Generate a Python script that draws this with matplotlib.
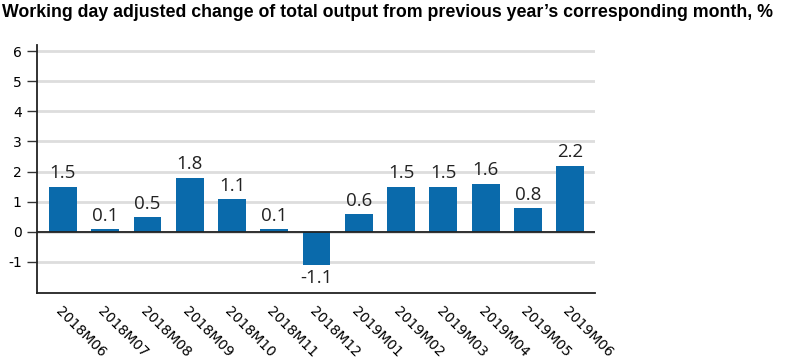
import matplotlib
matplotlib.use("Agg")
import matplotlib.pyplot as plt

months = ["2018M06", "2018M07", "2018M08", "2018M09", "2018M10", "2018M11", "2018M12",
          "2019M01", "2019M02", "2019M03", "2019M04", "2019M05", "2019M06"]
change = [1.5, 0.1, 0.5, 1.8, 1.1, 0.1, -1.1, 0.6, 1.5, 1.5, 1.6, 0.8, 2.2]
yticks = [-1, 0, 1, 2, 3, 4, 5, 6]

fig = plt.figure(figsize=(7.85, 3.62), dpi=100)
ax = fig.add_axes([0.0471, 0.1906, 0.7109, 0.6851])

x = list(range(len(months)))
ax.bar(x, change, width=0.66, color="#0a6aab", zorder=3)

for xi, v in zip(x, change):
    if v >= 0:
        ax.annotate(f"{v:.1f}", (xi, v), xytext=(0, 3), textcoords="offset points",
                    ha="center", va="bottom", fontsize=13.5, family="Open Sans",
                    color="#222222")
    else:
        ax.annotate(f"{v:.1f}", (xi, v), xytext=(0, -3), textcoords="offset points",
                    ha="center", va="top", fontsize=13.5, family="Open Sans",
                    color="#222222")

ax.set_xlim(-0.615, 12.59)
ax.set_ylim(-2.03, 6.2)
ax.set_yticks(yticks)
ax.set_yticklabels([str(t) for t in yticks], fontsize=10)
ax.set_xticks(x)
ax.set_xticklabels(months, rotation=-45, ha="left", va="top", fontsize=10,
                   rotation_mode="anchor")
ax.tick_params(axis="x", length=0, pad=8)
ax.tick_params(axis="y", length=7, width=1, color="#333333", pad=4)

ax.grid(axis="y", color="#dddddd", linewidth=2, zorder=0)
ax.axhline(0, color="#222222", linewidth=1.3, zorder=4)
for s in ["top", "right"]:
    ax.spines[s].set_visible(False)
ax.spines["left"].set_color("#222222")
ax.spines["bottom"].set_color("#222222")
ax.spines["left"].set_linewidth(1.3)
ax.spines["bottom"].set_linewidth(1.3)

fig.text(0.002, 0.988, "Working day adjusted change of total output from previous year\u2019s corresponding month, %",
         ha="left", va="top", fontsize=12.8, fontweight="bold", family="Liberation Sans")

fig.savefig("out.png", dpi=100)
